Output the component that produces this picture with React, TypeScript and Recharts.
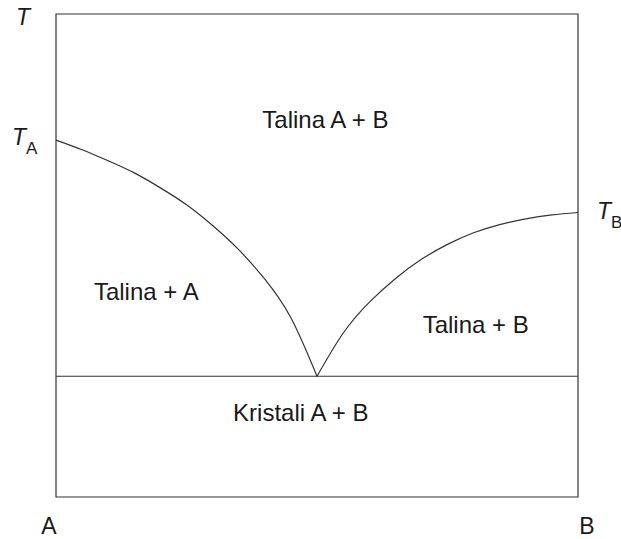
import { LineChart, Line, XAxis, YAxis, ReferenceLine, ReferenceArea, ReferenceDot } from 'recharts';

// composition of B (0 = pure A, 100 = pure B) and temperature
const liquidusAComp = [0, 5, 10, 15, 20, 25, 30, 35, 40, 45, 50];
const liquidusATemp = [73.9, 71.9, 69.6, 67.1, 64.0, 60.5, 56.2, 51.2, 45.1, 37.1, 25.0];
const liquidusBComp = [50, 55, 60, 65, 70, 75, 80, 85, 90, 95, 100];
const liquidusBTemp = [25.0, 33.9, 40.3, 45.2, 49.2, 52.3, 54.7, 56.4, 57.6, 58.4, 58.9];
const eutecticTemp = 25.0;
const meltA = 73.9;
const meltB = 58.9;

const regionLabels = ['Talina A + B', 'Talina + A', 'Talina + B', 'Kristali A + B'];

const leftData = liquidusAComp.map((x, i) => ({ x, t: liquidusATemp[i] }));
const rightData = liquidusBComp.map((x, i) => ({ x, t: liquidusBTemp[i] }));

const FONT = 'Arial, "Liberation Sans", sans-serif';
const INK = '#1a1a1a';
const LINE = '#333';

const centered = (text: string) => (props: any) => {
  const { x, y } = props.viewBox;
  return (
    <text x={x} y={y} dy="0.36em" textAnchor="middle" fontFamily={FONT} fontSize={24} fill={INK}>
      {text}
    </text>
  );
};

const offsetText = (text: string, dx: number, dy: number, anchor: string, sub?: string, italic?: boolean) => (props: any) => {
  const { x, y } = props.viewBox;
  return (
    <text x={x + dx} y={y + dy} textAnchor={anchor} fontFamily={FONT} fontSize={23} fill={INK}>
      <tspan fontStyle={italic ? 'italic' : 'normal'}>{text}</tspan>
      {sub && <tspan fontSize={17} dy={9}>{sub}</tspan>}
    </text>
  );
};

export default function App() {
  return (
    <div style={{ position: 'absolute', left: 0, top: 0, background: '#fff' }}>
      <LineChart width={621} height={539} margin={{ top: 14, right: 43, bottom: 42, left: 56 }}>
        <XAxis type="number" dataKey="x" domain={[0, 100]} hide />
        <YAxis type="number" dataKey="t" domain={[0, 100]} hide />
        <ReferenceArea x1={0} x2={100} y1={0} y2={100} fill="none" stroke={LINE} strokeWidth={1.2} ifOverflow="visible" />
        <ReferenceLine y={eutecticTemp} stroke={LINE} strokeWidth={1.2} />
        <Line data={leftData} dataKey="t" type="natural" stroke={LINE} strokeWidth={1.2} dot={false} isAnimationActive={false} />
        <Line data={rightData} dataKey="t" type="natural" stroke={LINE} strokeWidth={1.2} dot={false} isAnimationActive={false} />

        <ReferenceDot x={51.6} y={78.1} r={0} label={centered(regionLabels[0])} />
        <ReferenceDot x={17.3} y={42.5} r={0} label={centered(regionLabels[1])} />
        <ReferenceDot x={80.4} y={35.7} r={0} label={centered(regionLabels[2])} />
        <ReferenceDot x={46.9} y={17.6} r={0} label={centered(regionLabels[3])} />

        <ReferenceDot x={0} y={100} r={0} ifOverflow="visible" label={offsetText('T', -40, 11, 'start', undefined, true)} />
        <ReferenceDot x={0} y={meltA} r={0} ifOverflow="visible" label={offsetText('T', -44, 5, 'start', 'A', true)} />
        <ReferenceDot x={100} y={meltB} r={0} ifOverflow="visible" label={offsetText('T', 19, 6, 'start', 'B', true)} />
        <ReferenceDot x={0} y={0} r={0} ifOverflow="visible" label={offsetText('A', -7, 37, 'middle')} />
        <ReferenceDot x={100} y={0} r={0} ifOverflow="visible" label={offsetText('B', 9, 37, 'middle')} />
      </LineChart>
    </div>
  );
}
